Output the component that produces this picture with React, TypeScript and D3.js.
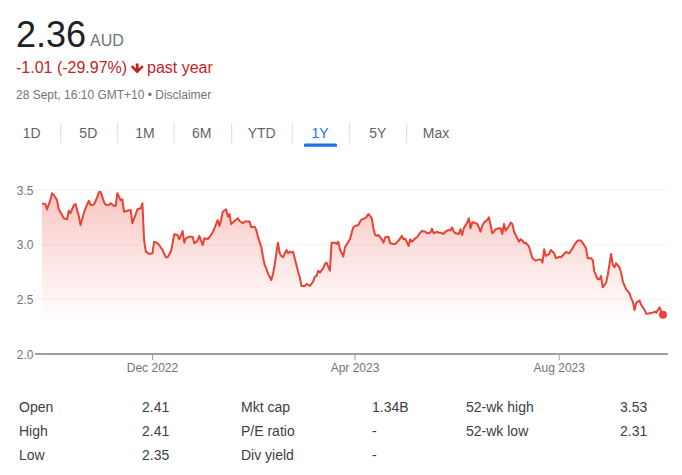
import React from "react";
import * as d3 from "d3";

// ---- data ----
const startDate = new Date(2022, 8, 26);
const dayOffsets = [
  0, 2, 3, 5, 6, 7, 9, 10, 12, 13, 15, 16, 17, 19, 20, 22, 23, 25, 26, 28,
  29, 31, 33, 34, 35, 37, 38, 40, 41, 43, 44, 45, 47, 48, 49, 51, 53, 54, 56, 57,
  59, 60, 61, 62, 64, 66, 67, 69, 70, 72, 74, 75, 77, 78, 79, 81, 82, 84, 85, 86,
  88, 90, 91, 93, 94, 96, 97, 99, 100, 102, 103, 105, 106, 107, 108, 110, 111, 112, 113, 115,
  117, 118, 120, 121, 124, 125, 127, 128, 129, 131, 132, 133, 134, 135, 137, 138, 139, 140, 141, 142,
  143, 144, 146, 147, 148, 149, 150, 152, 153, 154, 155, 157, 158, 160, 162, 163, 164, 165, 166, 168,
  169, 170, 171, 172, 173, 175, 176, 177, 178, 180, 181, 183, 184, 185, 186, 187, 189, 190, 191, 193,
  194, 195, 197, 198, 199, 200, 201, 203, 204, 205, 207, 208, 210, 211, 213, 215, 216, 217, 219, 220,
  221, 223, 224, 226, 227, 229, 230, 232, 233, 234, 236, 237, 238, 240, 241, 243, 244, 245, 246, 247,
  249, 250, 251, 252, 254, 255, 256, 257, 258, 260, 261, 262, 263, 264, 266, 267, 268, 269, 270, 271,
  273, 274, 275, 276, 277, 279, 280, 281, 282, 283, 285, 286, 287, 288, 289, 291, 292, 293, 295, 297,
  298, 299, 300, 301, 303, 304, 306, 307, 309, 310, 312, 313, 315, 317, 318, 320, 322, 323, 325, 326,
  328, 329, 330, 332, 333, 334, 335, 337, 338, 340, 341, 342, 343, 345, 346, 347, 349, 351, 352, 353,
  354, 355, 357, 358, 360, 361, 363, 365, 366, 367, 369, 370, 371,
];
const prices = [
  3.38, 3.375, 3.326, 3.41, 3.473, 3.457, 3.41, 3.326, 3.274, 3.244, 3.234, 3.313, 3.29, 3.363, 3.375, 3.265, 3.182, 3.29, 3.335, 3.405,
  3.366, 3.368, 3.436, 3.485, 3.485, 3.396, 3.368, 3.366, 3.381, 3.357, 3.357, 3.473, 3.41, 3.418, 3.304, 3.313, 3.32, 3.198, 3.283, 3.326,
  3.335, 3.381, 3.045, 2.938, 2.917, 2.923, 3.029, 3.015, 2.999, 2.953, 2.886, 2.886, 2.938, 3.015, 3.097, 3.091, 3.051, 3.127, 3.02, 3.06,
  3.075, 3.075, 3.015, 3.039, 3.082, 2.999, 3.06, 3.054, 3.07, 3.115, 3.152, 3.228, 3.173, 3.228, 3.304, 3.326, 3.259, 3.283, 3.192, 3.219,
  3.244, 3.219, 3.198, 3.213, 3.213, 3.161, 3.167, 3.137, 3.075, 2.983, 2.892, 2.816, 2.785, 2.739, 2.678, 2.733, 2.816, 2.923, 3.02, 2.923,
  2.898, 2.886, 2.953, 2.923, 2.938, 2.929, 2.938, 2.816, 2.754, 2.703, 2.623, 2.623, 2.642, 2.623, 2.663, 2.709, 2.715, 2.763, 2.745, 2.785,
  2.825, 2.837, 2.8, 2.763, 3.02, 3.02, 3.008, 3.029, 2.96, 2.892, 2.977, 3.029, 3.051, 3.112, 3.161, 3.173, 3.182, 3.213, 3.234, 3.244,
  3.259, 3.283, 3.244, 3.152, 3.091, 3.082, 3.091, 3.051, 3.02, 3.07, 3.075, 3.015, 3.008, 3.008, 3.039, 3.082, 3.051, 3.057, 2.99, 3.051,
  3.029, 3.06, 3.07, 3.112, 3.127, 3.121, 3.106, 3.112, 3.149, 3.106, 3.121, 3.112, 3.112, 3.1, 3.121, 3.137, 3.13, 3.161, 3.121, 3.106,
  3.1, 3.143, 3.091, 3.152, 3.204, 3.244, 3.152, 3.204, 3.207, 3.192, 3.161, 3.121, 3.173, 3.204, 3.228, 3.253, 3.182, 3.106, 3.121, 3.143,
  3.152, 3.152, 3.1, 3.192, 3.13, 3.173, 3.204, 3.192, 3.121, 3.091, 3.029, 3.051, 3.039, 3.015, 3.02, 2.983, 2.929, 2.877, 2.855, 2.867,
  2.867, 2.837, 2.96, 2.898, 2.917, 2.953, 2.923, 2.877, 2.892, 2.886, 2.917, 2.935, 2.923, 2.969, 2.999, 3.039, 3.039, 3.02, 2.969, 2.877,
  2.877, 2.862, 2.754, 2.685, 2.685, 2.715, 2.611, 2.653, 2.724, 2.917, 2.816, 2.795, 2.831, 2.795, 2.745, 2.663, 2.593, 2.556, 2.51, 2.479,
  2.403, 2.47, 2.489, 2.449, 2.403, 2.367, 2.373, 2.379, 2.388, 2.379, 2.428, 2.388, 2.36,
];
const yTicks = [2.0, 2.5, 3.0, 3.5];
const xTickDates = [new Date(2022, 11, 1), new Date(2023, 3, 1), new Date(2023, 7, 1)];
const xTickLabels = ["Dec 2022", "Apr 2023", "Aug 2023"];
const rangeTabs = ["1D", "5D", "1M", "6M", "YTD", "1Y", "5Y", "Max"];
const selectedTab = "1Y";
const statLabels1 = ["Open", "High", "Low"];
const statValues1 = ["2.41", "2.41", "2.35"];
const statLabels2 = ["Mkt cap", "P/E ratio", "Div yield"];
const statValues2 = ["1.34B", "-", "-"];
const statLabels3 = ["52-wk high", "52-wk low"];
const statValues3 = ["3.53", "2.31"];
const areaFloor = 2.33;

const FONT = "Arial, 'Liberation Sans', sans-serif";
const RED = "#ea4335";
const GREY = "#70757a";

export default function App() {
  const data = dayOffsets.map((d, i) => ({ date: d3.timeDay.offset(startDate, d), v: prices[i] }));
  const x = d3
    .scaleTime()
    .domain([startDate, d3.timeDay.offset(startDate, dayOffsets[dayOffsets.length - 1])])
    .range([42, 663]);
  const y = d3.scaleLinear().domain([2.0, 3.5]).range([354, 190.3]);

  const line = d3
    .line<{ date: Date; v: number }>()
    .x((d) => x(d.date))
    .y((d) => y(d.v));
  const area = d3
    .area<{ date: Date; v: number }>()
    .x((d) => x(d.date))
    .y0(y(areaFloor))
    .y1((d) => y(d.v));
  const last = data[data.length - 1];

  const tabCenters = [31.7, 88.3, 145, 201.7, 261.7, 320, 377.7, 436];
  const tabSeps = [60.7, 117.3, 174, 231.7, 292.3, 349.3, 406.7];

  const rowY = [412, 436, 460];

  return (
    <svg
      width={682}
      height={475}
      style={{ position: "absolute", left: 0, top: 0, background: "#fff" }}
      fontFamily={FONT}
    >
      <defs>
        <linearGradient id="fillGrad" gradientUnits="userSpaceOnUse" x1={0} y1={y(3.5)} x2={0} y2={y(areaFloor)}>
          <stop offset="0%" stopColor={RED} stopOpacity={0.3} />
          <stop offset="100%" stopColor={RED} stopOpacity={0.005} />
        </linearGradient>
      </defs>
      <rect x={0} y={0} width={682} height={475} fill="#fff" />

      {/* header */}
      <text x={16} y={46.5} fontSize={36} fill="#202124">2.36</text>
      <text x={90} y={46} fontSize={16} fill={GREY}>AUD</text>
      <text x={16} y={73} fontSize={16} fill="#c5221f">-1.01 (-29.97%)</text>
      <path d="M135.8,63.5 h2.8 v5 l3.3,-3.3 l1.8,1.8 l-6.5,6.6 l-6.5,-6.6 l1.8,-1.8 l3.3,3.3 z" fill="#c5221f" />
      <text x={147} y={73} fontSize={16} fill="#c5221f">past year</text>
      <text x={16} y={98.5} fontSize={12} fill={GREY}>28 Sept, 16:10 GMT+10 • Disclaimer</text>

      {/* tabs */}
      {rangeTabs.map((t, i) => (
        <text
          key={t}
          x={tabCenters[i]}
          y={138}
          fontSize={14}
          textAnchor="middle"
          fill={t === selectedTab ? "#1a73e8" : "#5f6368"}
        >
          {t}
        </text>
      ))}
      {tabSeps.map((sx, i) => (
        <line key={i} x1={sx} x2={sx} y1={123} y2={143} stroke="#dadce0" strokeWidth={1} />
      ))}
      <path d="M304,146.7 v-1.8 a1.5,1.5 0 0 1 1.5,-1.5 h30 a1.5,1.5 0 0 1 1.5,1.5 v1.8 z" fill="#1a73e8" />

      {/* grid */}
      {yTicks.filter((t) => t > 2).map((t) => (
        <line key={t} x1={35} x2={668} y1={y(t)} y2={y(t)} stroke="#f1f3f4" strokeWidth={1} />
      ))}
      {yTicks.map((t) => (
        <text key={t} x={33.5} y={y(t) + 4.5} fontSize={12} textAnchor="end" fill={GREY}>
          {t.toFixed(1)}
        </text>
      ))}

      {/* area + line */}
      <path d={area(data) || ""} fill="url(#fillGrad)" />
      <path d={line(data) || ""} fill="none" stroke={RED} strokeWidth={2} strokeLinejoin="round" />
      <circle cx={x(last.date)} cy={y(last.v)} r={4} fill={RED} />

      {/* x axis */}
      <line x1={35} x2={668} y1={354} y2={354} stroke="#9aa0a6" strokeWidth={2} />
      {xTickDates.map((d, i) => (
        <g key={i}>
          <line x1={x(d)} x2={x(d)} y1={354} y2={360} stroke="#9aa0a6" strokeWidth={1} />
          <text x={x(d)} y={371.5} fontSize={12} textAnchor="middle" fill={GREY}>
            {xTickLabels[i]}
          </text>
        </g>
      ))}

      {/* stats table */}
      {statLabels1.map((l, i) => (
        <g key={l}>
          <text x={19} y={rowY[i]} fontSize={14} fill="#3c4043">{l}</text>
          <text x={142} y={rowY[i]} fontSize={14} fill="#3c4043">{statValues1[i]}</text>
        </g>
      ))}
      {statLabels2.map((l, i) => (
        <g key={l}>
          <text x={241} y={rowY[i]} fontSize={14} fill="#3c4043">{l}</text>
          <text x={372} y={rowY[i]} fontSize={14} fill="#3c4043">{statValues2[i]}</text>
        </g>
      ))}
      {statLabels3.map((l, i) => (
        <g key={l}>
          <text x={466} y={rowY[i]} fontSize={14} fill="#3c4043">{l}</text>
          <text x={620} y={rowY[i]} fontSize={14} fill="#3c4043">{statValues3[i]}</text>
        </g>
      ))}
    </svg>
  );
}
